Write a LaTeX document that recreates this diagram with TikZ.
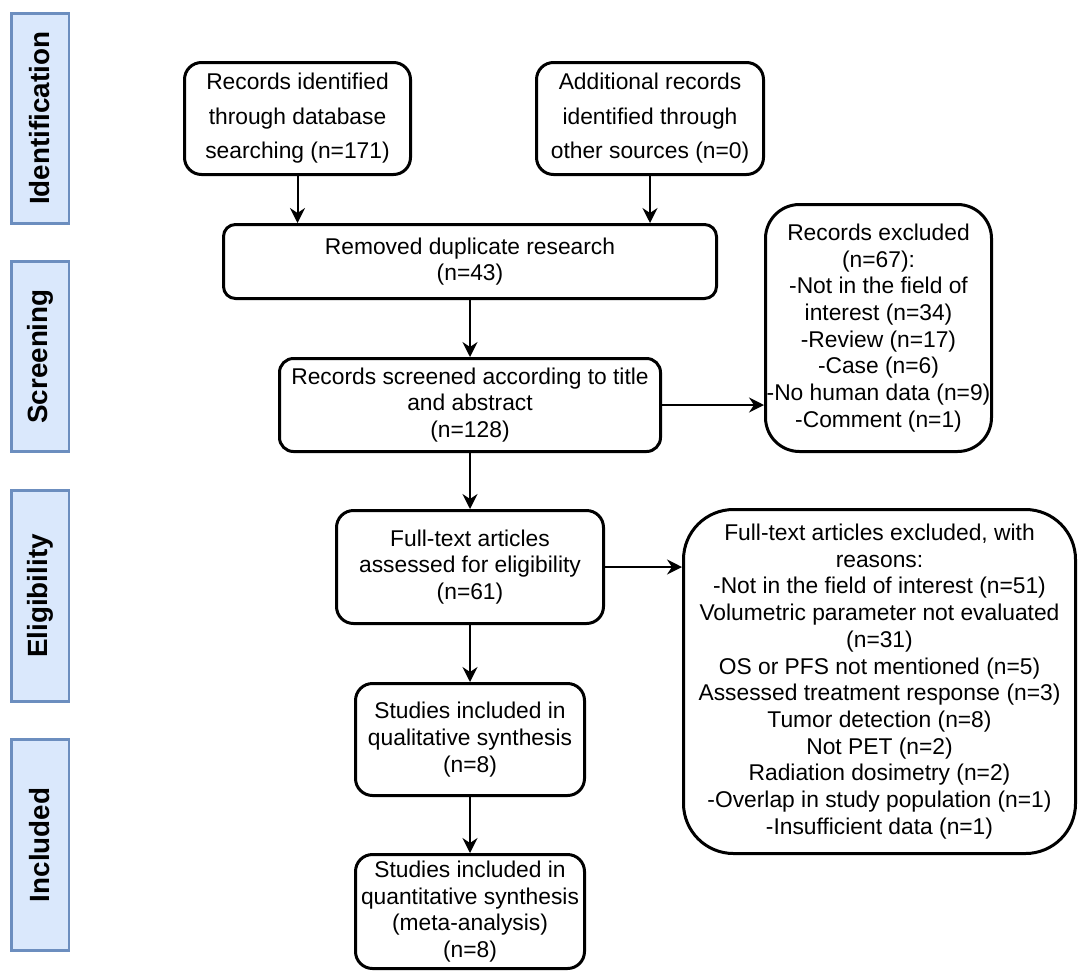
\documentclass[tikz,border=0pt]{standalone}
\usepackage{fontspec}
\setmainfont{Liberation Sans}
\usetikzlibrary{arrows.meta}
\definecolor{sidefill}{HTML}{DAE8FC}
\definecolor{sideedge}{HTML}{6C8EBF}
\begin{document}
\begin{tikzpicture}[x=1pt,y=-1pt,
  flowbox/.style={draw=black, line width=3pt, fill=white, align=center, inner sep=0pt, font=\fontsize{22.8}{26.7}\selectfont},
  tallbox/.style={flowbox, font=\fontsize{22.8}{34.5}\selectfont},
  phase/.style={draw=sideedge, fill=sidefill, line width=2.5pt, rotate=90, minimum height=57.5pt, inner sep=0pt, font=\fontsize{27.8}{30}\selectfont\bfseries},
  flowarrow/.style={line width=2pt, -{Stealth[length=15pt,width=15pt,inset=5pt]}}
]
\useasboundingbox (0,0) rectangle (1084,978);

% phase labels
\node[phase, minimum width=210pt] (pident) at (40,118.5) {Identification};
\node[phase, minimum width=190pt] (pscreen) at (40,356.5) {Screening};
\node[phase, minimum width=211pt] (pelig) at (40,596) {Eligibility};
\node[phase, minimum width=211pt] (pincl) at (40,845) {Included};

% boxes
\node[tallbox, minimum width=226pt, minimum height=112pt, rounded corners=17pt] (box1) at (297.5,118.5)
  {Records identified\\through database\\searching (n=171)};
\node[tallbox, minimum width=227pt, minimum height=112pt, rounded corners=17pt] (box2) at (650,118.5)
  {Additional records\\identified through\\other sources (n=0)};
\node[flowbox, minimum width=493pt, minimum height=74pt, rounded corners=12pt] (box3) at (470,261.5)
  {Removed duplicate research\\(n=43)};
\node[flowbox, minimum width=381pt, minimum height=93pt, rounded corners=14pt] (box4) at (470,405)
  {Records screened according to title\\and abstract\\(n=128)};
\node[flowbox, minimum width=226pt, minimum height=247pt, rounded corners=34pt] (excl1) at (878.5,328)
  {Records excluded\\(n=67):\\-Not in the field of\\interest (n=34)\\-Review (n=17)\\-Case (n=6)\\-No human data (n=9)\\-Comment (n=1)};
\node[flowbox, minimum width=267pt, minimum height=113pt, rounded corners=17pt] (box5) at (470,567)
  {Full-text articles\\assessed for eligibility\\(n=61)};
\node[flowbox, minimum width=392pt, minimum height=344pt, rounded corners=50pt] (excl2) at (879.5,681.5)
  {Full-text articles excluded, with\\reasons:\\-Not in the field of interest (n=51)\\Volumetric parameter not evaluated\\(n=31)\\OS or PFS not mentioned (n=5)\\Assessed treatment response (n=3)\\Tumor detection (n=8)\\Not PET (n=2)\\Radiation dosimetry (n=2)\\-Overlap in study population (n=1)\\-Insufficient data (n=1)};
\node[flowbox, minimum width=229pt, minimum height=112pt, rounded corners=17pt] (box6) at (470,739.5)
  {Studies included in\\qualitative synthesis\\(n=8)};
\node[flowbox, minimum width=229pt, minimum height=114pt, rounded corners=17pt] (box7) at (470,911.5)
  {Studies included in\\quantitative synthesis\\(meta-analysis)\\(n=8)};

% connectors
\draw[flowarrow] (box1.south) -- (box1.south |- box3.north);
\draw[flowarrow] (box2.south) -- (box2.south |- box3.north);
\draw[flowarrow] (box3.south) -- (box4.north);
\draw[flowarrow] (box4.east) -- (box4.east -| excl1.west);
\draw[flowarrow] (box4.south) -- (box5.north);
\draw[flowarrow] (box5.east) -- (box5.east -| excl2.west);
\draw[flowarrow] (box5.south) -- (box6.north);
\draw[flowarrow] (box6.south) -- (box7.north);
\end{tikzpicture}
\end{document}
